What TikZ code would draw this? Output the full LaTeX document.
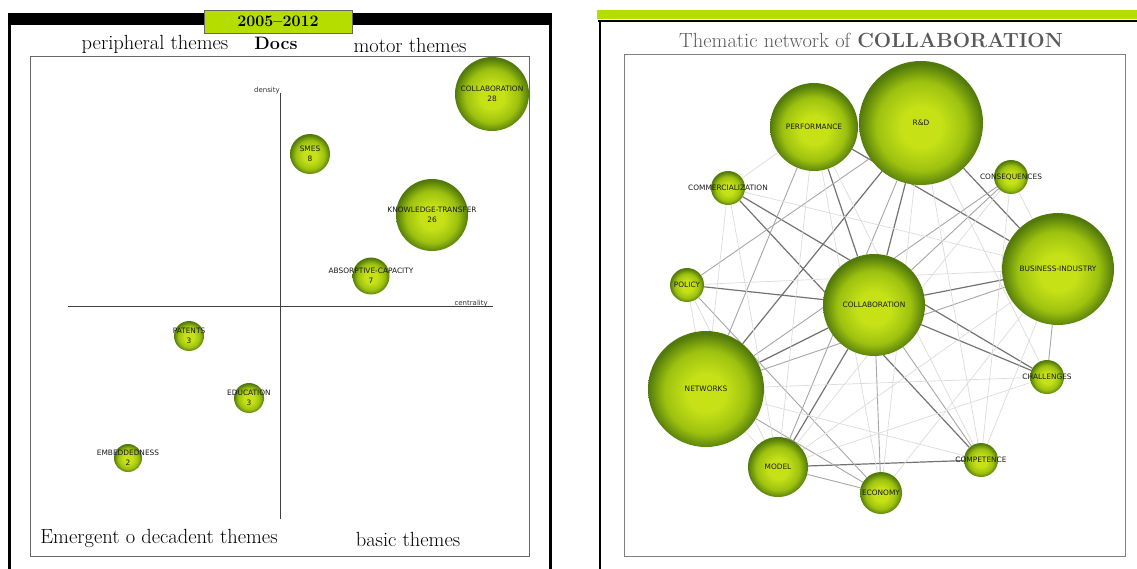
\documentclass[tikz,border=0pt]{standalone}
\usepackage{fontspec}
\newfontfamily\bubfont{DejaVu Sans}
\usetikzlibrary{backgrounds}

\definecolor{lime}{HTML}{B5DD00}
\definecolor{bubin}{HTML}{C6E217}
\definecolor{bubmid}{HTML}{9DC10F}
\definecolor{bubout}{HTML}{527A0B}
\pgfdeclareradialshading{bubble}{\pgfpoint{0bp}{-2bp}}{color(0bp)=(bubin); color(8bp)=(bubin); color(18bp)=(bubmid); color(25bp)=(bubout); color(50bp)=(bubout)}

\tikzset{
  bub/.style={circle,shade,shading=bubble,inner sep=0pt},
  blab/.style={font=\bubfont\fontsize{7.4}{9.6}\selectfont,align=center,text=black!90,inner sep=0pt},
  axlab/.style={font=\bubfont\fontsize{7}{8}\selectfont,text=black!80,inner sep=0pt},
  theme/.style={font=\fontsize{20.5}{22}\selectfont,inner sep=0pt},
  strong/.style={draw=black!55,line width=1.2pt},
  mid/.style={draw=black!35,line width=0.9pt},
  faint/.style={draw=black!14,line width=0.7pt}
}

\begin{document}
\begin{tikzpicture}[x=1pt,y=-1pt]
    \useasboundingbox (0,0) rectangle (1137,569);

    % strategic diagram
    \fill (8,13) rectangle (552,25);
    \draw[line width=2.5pt] (9.5,25) -- (9.5,569);
    \draw[line width=2.5pt] (550.5,25) -- (550.5,569);
    \node[draw=black!60,fill=lime,minimum width=148,minimum height=23,inner sep=0pt,
      font=\bfseries\fontsize{16}{18}\selectfont] (period) at (278,21.5) {2005--2012};
    \draw[black!60] (30,56) rectangle (529,556);

    \node[theme] (periph) at (155,44) {peripheral themes};
    \node[theme,font=\bfseries\fontsize{18}{20}\selectfont] (docs) at (276,43) {Docs};
    \node[theme] (motor) at (410,45) {motor themes};
    \node[theme] (emerg) at (159,538) {Emergent o decadent themes};
    \node[theme] (basic) at (408,539) {basic themes};

    \coordinate (ytop) at (280,93);
    \coordinate (ybot) at (280,519);
    \coordinate (xleft) at (68,306);
    \coordinate (xright) at (493,306);
    \draw[black!75,line width=0.7pt] (ybot) -- (ytop);
    \draw[black!75,line width=0.7pt] (xleft) -- (xright);
    \node[axlab,anchor=base east] (dens) at (280,93) {density};
    \node[axlab,anchor=base east] (cent) at (488,305) {centrality};

    \foreach \id/\x/\y/\r/\txt/\num in {coll/492/94/37/COLLABORATION/28,
      smes/310/154/20/SMES/8, know/432/215/36/KNOWLEDGE-TRANSFER/26,
      absorp/371/276/18.5/ABSORPTIVE-CAPACITY/7, pat/189/336/15/PATENTS/3,
      edu/249/398/15/EDUCATION/3, emb/128/458/14/EMBEDDEDNESS/2}
    \node[bub,minimum size=2*\r,label={[blab]center:\txt\\\num}] (\id) at (\x,\y) {};

    % thematic network
    \fill[lime] (597,10) rectangle (1137,19.5);
    \draw[line width=2pt] (598,21) -- (1137,21);
    \draw[line width=2.5pt] (600,21) -- (600,569);
    \node[font=\fontsize{20.5}{22}\selectfont,text=black!65,inner sep=0pt] (title) at (871,40)
      {Thematic network of \textbf{COLLABORATION}};
    \draw[black!50] (624,54) rectangle (1125,556);

    \foreach \id/\x/\y/\r/\txt in {nperf/814/127/44/PERFORMANCE, nrd/921/123/62/R\&D,
      ncomm/728/188/17/COMMERCIALIZATION, ncons/1011/177/17/CONSEQUENCES,
      nbus/1058/269/56/BUSINESS-INDUSTRY, npol/687/285/17/POLICY,
      ncoll/874/305/51/COLLABORATION, nnet/706/389/58/NETWORKS,
      nmod/778/467/30/MODEL, neco/881/493/21/ECONOMY,
      ncomp/981/460/17/COMPETENCE, nchal/1047/377/17/CHALLENGES}
    \node[bub,minimum size=2*\r,label={[blab]center:\txt}] (\id) at (\x,\y) {};

    \begin{pgfonlayer}{background}
    \foreach \a/\b in {nrd/ncoll, nperf/ncoll, nperf/nbus, nrd/nbus, ncomm/nchal,
      ncomm/ncomp, npol/ncoll, ncoll/nbus, ncoll/nchal, ncoll/nnet, ncoll/nmod,
      nmod/ncomp, nrd/nnet}
    \draw[strong] (\a) -- (\b);
    \foreach \a/\b in {nrd/nmod, nperf/nnet, nrd/npol, ncons/ncoll, ncons/nnet,
      npol/neco, nnet/neco, ncoll/neco, nnet/nbus, nbus/nchal, nmod/neco,
      ncoll/ncomp}
    \draw[mid] (\a) -- (\b);
    \foreach \a/\b in {nperf/nmod, nperf/nrd, ncomm/nmod, ncomm/nnet, ncomm/nbus,
      ncons/nmod, ncons/nbus, npol/nbus, npol/nnet, npol/nmod, nnet/nmod,
      nnet/nchal, nnet/ncomp, nmod/nbus, nmod/nchal, nbus/neco, nbus/ncomp,
      nrd/neco, nrd/ncomp, nrd/nchal, nperf/neco, nperf/ncomp, ncomm/nperf,
      ncons/ncomp}
    \draw[faint] (\a) -- (\b);
    \end{pgfonlayer}

\end{tikzpicture}
\end{document}
